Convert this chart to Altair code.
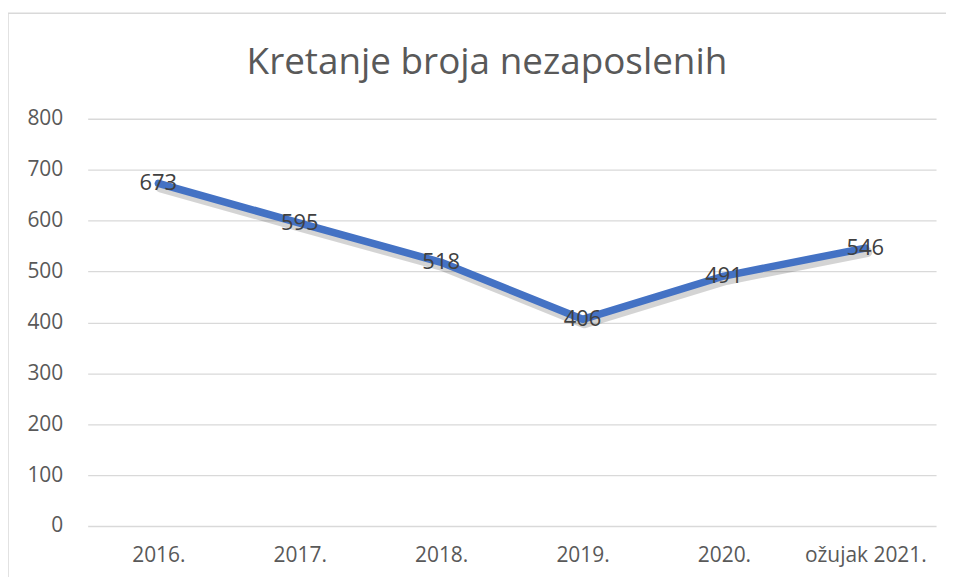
import altair as alt
import pandas as pd

categories = ["2016.", "2017.", "2018.", "2019.", "2020.", "ožujak 2021."]
values = [673, 595, 518, 406, 491, 546]
title_text = "Kretanje broja nezaposlenih"

df = pd.DataFrame({"kategorija": categories, "vrijednost": values})

FONT = "Open Sans"

x = alt.X("kategorija:N", sort=categories, title=None,
          scale=alt.Scale(type="point", padding=0.5),
          axis=alt.Axis(labelAngle=0, labelFontSize=21, labelColor="#595959",
                        labelFont=FONT, ticks=False, domain=False, labelPadding=19,
                        grid=False))
y = alt.Y("vrijednost:Q", title=None,
          scale=alt.Scale(domain=[0, 800]),
          axis=alt.Axis(values=list(range(0, 801, 100)), labelFontSize=21,
                        labelColor="#595959", labelFont=FONT, ticks=False,
                        domain=False, labelPadding=25, gridColor="#D9D9D9",
                        gridWidth=1.3))

base = alt.Chart(df)

shadow = base.mark_line(color="#000000", opacity=0.17, strokeWidth=10,
                        xOffset=2, yOffset=4, strokeCap="round",
                        strokeJoin="round").encode(x=x, y=y)
line = base.mark_line(color="#4472C4", strokeWidth=7.5, strokeCap="round",
                      strokeJoin="round").encode(x=x, y=y)
labels = base.mark_text(fontSize=22, color="#404040", font=FONT).encode(
    x=x, y=y, text="vrijednost:Q")

one = pd.DataFrame({"t": [title_text]})
border = alt.Chart(one).mark_rect(
    fill=None, stroke="#D9D9D9", strokeWidth=1.5).encode(
    x=alt.value(-80), x2=alt.value(900), y=alt.value(-106), y2=alt.value(500))
title = alt.Chart(one).mark_text(
    fontSize=37, font=FONT, color="#595959", align="center",
    baseline="middle").encode(
    x=alt.value(401), y=alt.value(-56), text="t:N")

chart = alt.layer(border, shadow, line, labels, title).properties(
    width=852, height=409,
    autosize=alt.AutoSizeParams(type="none"),
    padding={"left": 80, "top": 110, "right": 10, "bottom": 50},
).configure_view(stroke=None)

chart.save("out.html", embed_options={"renderer": "svg", "actions": False})
